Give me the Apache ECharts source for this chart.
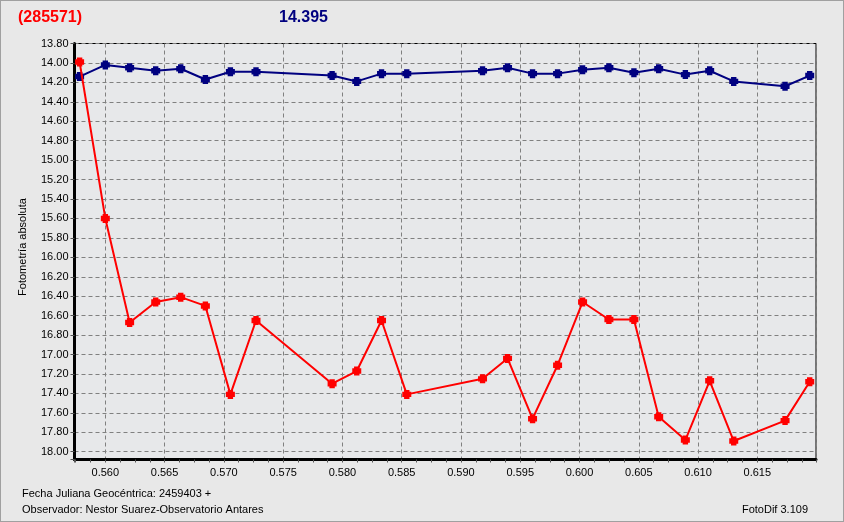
<!DOCTYPE html>
<html>
<head>
<meta charset="utf-8">
<script src="https://cdn.jsdelivr.net/npm/echarts@6/dist/echarts.min.js"></script>
<style>
html,body{margin:0;padding:0;background:#e8e8e8;}
#wrap{position:relative;width:844px;height:522px;box-sizing:border-box;border:1px solid #a0a0a0;background:#e8e8e8;}
#chart{position:absolute;left:-1px;top:-1px;width:844px;height:522px;}
</style>
</head>
<body>
<div id="wrap"><div id="chart"></div></div>
<script>
// Julian date fraction (x) for each observation
const jdFrac = [0.55783,0.56000,0.56205,0.56425,0.56636,0.56844,0.57055,0.57271,0.57913,0.58121,0.58330,0.58543,0.59182,0.59393,0.59604,0.59815,0.60026,0.60248,0.60459,0.60668,0.60893,0.61098,0.61301,0.61734,0.61942];
// Comparison star (blue)
const compMag = [14.14,14.02,14.05,14.08,14.06,14.17,14.09,14.09,14.13,14.19,14.11,14.11,14.08,14.05,14.11,14.11,14.07,14.05,14.10,14.06,14.12,14.08,14.19,14.24,14.13];
// Target object (red)
const targetMag = [13.99,15.60,16.67,16.46,16.41,16.50,17.41,16.65,17.30,17.17,16.65,17.41,17.25,17.04,17.66,17.11,16.46,16.64,16.64,17.64,17.88,17.27,17.89,17.68,17.28];

const titleLeft = "(285571)";
const titleMid = "14.395";
const yName = "Fotometría absoluta";
const foot1 = "Fecha Juliana Geocéntrica: 2459403 +";
const foot2 = "Observador: Nestor Suarez-Observatorio Antares";
const foot3 = "FotoDif 3.109";

const chart = echarts.init(document.getElementById('chart'), null, {renderer:'canvas'});
const FONT = '"Liberation Sans", Arial, sans-serif';

const markerPath = 'path://M2,0 L8,0 L8,2 L10,2 L10,8 L8,8 L8,10 L2,10 L2,8 L0,8 L0,2 L2,2 Z';

function isMult(v, step){ const r = Math.round(v/step); return Math.abs(v - r*step) < 1e-7; }

const option = {
  backgroundColor: 'transparent',
  animation: false,
  grid: {left: 74.5, top: 43.5, width: 741.5, height: 416, show: true, backgroundColor: '#e7e8ea', borderColor: '#000', borderWidth: 1},
  xAxis: {
    type: 'value', min: 0.5574, max: 0.61995, splitNumber: 12,
    axisLine: {show: true, lineStyle: {color: '#000', width: 3}},
    axisTick: {show: true, length: 3, lineStyle: {color: '#555'}},
    minorTick: {show: true, splitNumber: 4, length: 3, lineStyle: {color: '#555'}},
    axisLabel: {color: '#000', fontFamily: FONT, fontSize: 11, margin: 8,
      formatter: v => isMult(v, 0.005) ? v.toFixed(3) : ''},
    splitLine: {show: true, lineStyle: {color: '#808080', type: [4,3], width: 1}}
  },
  yAxis: {
    type: 'value', inverse: true, min: 13.8, max: 18.08, interval: 0.2,
    axisLine: {show: true, lineStyle: {color: '#000', width: 3}},
    axisTick: {show: true, length: 4, lineStyle: {color: '#555'}},
    axisLabel: {color: '#000', fontFamily: FONT, fontSize: 11, margin: 6,
      formatter: v => isMult(v, 0.2) ? v.toFixed(2) : ''},
    splitLine: {show: true, lineStyle: {color: '#808080', type: [4,3], width: 1}}
  },
  series: [
    {
      type: 'line', name: 'comp',
      data: jdFrac.map((x,i)=>[x, compMag[i]]),
      symbol: markerPath, symbolSize: 9, showAllSymbol: true,
      lineStyle: {color: '#000080', width: 2},
      itemStyle: {color: '#000080'},
      z: 3
    },
    {
      type: 'line', name: 'target',
      data: jdFrac.map((x,i)=>[x, targetMag[i]]),
      symbol: markerPath, symbolSize: 9, showAllSymbol: true,
      lineStyle: {color: '#ff0000', width: 2},
      itemStyle: {color: '#ff0000'},
      z: 4
    }
  ],
  graphic: [
    {type:'text', left: 18, top: 10, style:{text: titleLeft, fill:'#ff0000', font: 'bold 16px ' + FONT}},
    {type:'text', left: 279, top: 10, style:{text: titleMid, fill:'#000080', font: 'bold 16px ' + FONT}},
    {type:'text', x: 23, y: 247, rotation: Math.PI/2, style:{text: yName, fill:'#000', font: '11px ' + FONT, align:'center', verticalAlign:'middle'}},
    {type:'text', left: 22, top: 488, style:{text: foot1, fill:'#000', font: '11px ' + FONT}},
    {type:'text', left: 22, top: 504, style:{text: foot2, fill:'#000', font: '11px ' + FONT}},
    {type:'text', right: 36, top: 504, style:{text: foot3, fill:'#000', font: '11px ' + FONT}}
  ]
};
chart.setOption(option);
</script>
</body>
</html>
